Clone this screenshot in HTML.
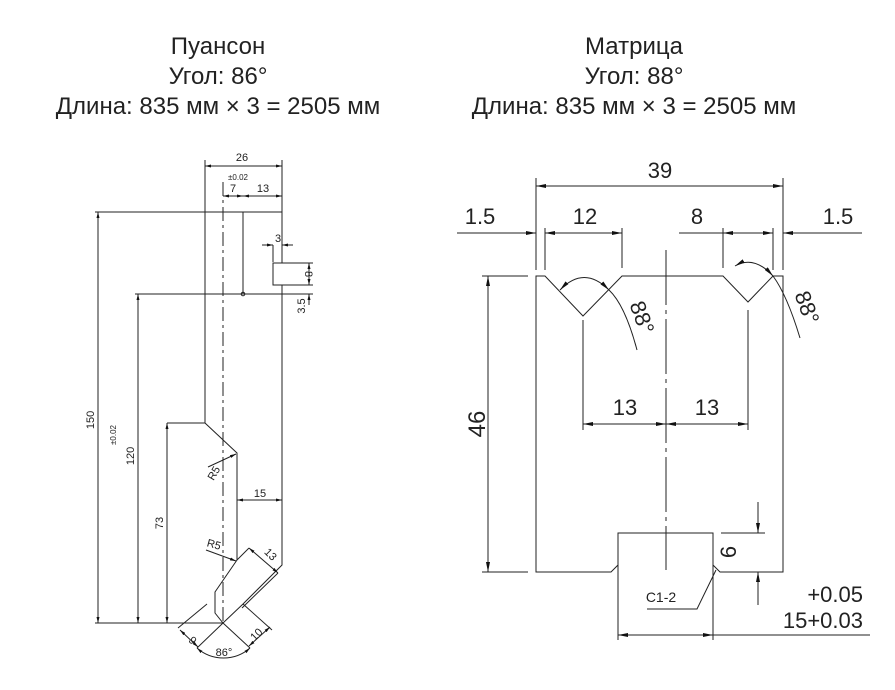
<!DOCTYPE html>
<html><head><meta charset="utf-8"><style>
html,body{margin:0;padding:0;background:#fff;width:895px;height:690px;overflow:hidden}
svg{display:block}
.t{font-family:"Liberation Sans","DejaVu Sans",sans-serif;font-size:24px;fill:#222;text-anchor:middle}
.c{font-family:"Liberation Sans",sans-serif;fill:#222}
</style></head><body>
<svg width="895" height="690" viewBox="0 0 895 690" xmlns="http://www.w3.org/2000/svg">
<defs>
<marker id="a" viewBox="0 0 10 4" refX="10" refY="2" markerWidth="10" markerHeight="4" markerUnits="userSpaceOnUse" orient="auto-start-reverse"><path d="M0,0L10,2L0,4z" fill="#111"/></marker>
<marker id="s" viewBox="0 0 6 3" refX="6" refY="1.5" markerWidth="6" markerHeight="3" markerUnits="userSpaceOnUse" orient="auto-start-reverse"><path d="M0,0L6,1.5L0,3z" fill="#111"/></marker>
</defs>
<text class="t" x="218" y="54">Пуансон</text>
<text class="t" x="218" y="84">Угол: 86°</text>
<text class="t" x="218" y="114">Длина: 835 мм × 3 = 2505 мм</text>
<text class="t" x="634" y="54">Матрица</text>
<text class="t" x="634" y="84">Угол: 88°</text>
<text class="t" x="634" y="114">Длина: 835 мм × 3 = 2505 мм</text>

<!-- LEFT PUNCH -->
<g stroke="#222" stroke-width="1" fill="none">
<path d="M205,212H282V263H273V285H282V565L243,604L223,623L215,613V592L237,560V453L205,423V160"/>
<line x1="282" y1="212" x2="282" y2="160"/>
<line x1="243" y1="212" x2="243" y2="294"/>
<line x1="223" y1="182" x2="223" y2="623" stroke-dasharray="14,4,3,4"/>
<line x1="95" y1="212" x2="282" y2="212"/>
<line x1="135" y1="294" x2="313" y2="294"/>
<line x1="95" y1="623" x2="223" y2="623"/>
<line x1="167" y1="423" x2="205" y2="423"/>
<line x1="98" y1="212" x2="98" y2="623" marker-start="url(#s)" marker-end="url(#s)"/>
<line x1="138" y1="294" x2="138" y2="623" marker-start="url(#s)" marker-end="url(#s)"/>
<line x1="167" y1="423" x2="167" y2="623" marker-start="url(#s)" marker-end="url(#s)"/>
<line x1="205" y1="166" x2="282" y2="166" marker-start="url(#s)" marker-end="url(#s)"/>
<line x1="223" y1="196" x2="243" y2="196" marker-start="url(#s)" marker-end="url(#s)"/>
<line x1="243" y1="196" x2="282" y2="196" marker-start="url(#s)" marker-end="url(#s)"/>
<line x1="262" y1="245" x2="273" y2="245" marker-end="url(#s)"/>
<line x1="293" y1="245" x2="282" y2="245" marker-end="url(#s)"/>
<line x1="273" y1="245" x2="273" y2="262"/>
<line x1="282" y1="263" x2="313" y2="263"/>
<line x1="282" y1="285" x2="313" y2="285"/>
<line x1="309" y1="263" x2="309" y2="285" marker-start="url(#s)" marker-end="url(#s)"/>
<line x1="309" y1="305" x2="309" y2="294" marker-end="url(#s)"/>
<line x1="237" y1="500" x2="282" y2="500" marker-start="url(#s)" marker-end="url(#s)"/>
<line x1="208" y1="467" x2="236" y2="454" marker-end="url(#s)"/>
<line x1="206" y1="550" x2="236" y2="561" marker-end="url(#s)"/>
<line x1="237" y1="560" x2="249" y2="548"/>
<line x1="249" y1="548" x2="278" y2="573" marker-start="url(#s)" marker-end="url(#s)"/>
<line x1="278" y1="573" x2="242" y2="608"/>
<line x1="178" y1="628" x2="207" y2="604"/>
<line x1="180" y1="630" x2="198" y2="647" marker-start="url(#s)" marker-end="url(#s)"/>
<line x1="223" y1="623" x2="250" y2="648"/>
<line x1="243" y1="604" x2="272" y2="630"/>
<line x1="249" y1="646" x2="270" y2="627" marker-start="url(#s)" marker-end="url(#s)"/>
<line x1="197" y1="648" x2="223" y2="623"/>
<path d="M197,648A40,40 0 0 0 250,648" marker-start="url(#s)" marker-end="url(#s)"/>
<circle cx="243" cy="294" r="1.8"/>
</g>
<g class="c" font-size="11">
<text x="242" y="161" text-anchor="middle">26</text>
<text x="238" y="180" font-size="8" text-anchor="middle">±0.02</text>
<text x="233" y="192" text-anchor="middle">7</text>
<text x="263" y="192" text-anchor="middle">13</text>
<text x="278" y="242" text-anchor="middle">3</text>
<text transform="translate(305,274) rotate(90)" text-anchor="middle">8</text>
<text transform="translate(305,306) rotate(-90)" text-anchor="middle">3.5</text>
<text transform="translate(94,420) rotate(-90)" text-anchor="middle">150</text>
<text transform="translate(116,435) rotate(-90)" text-anchor="middle" font-size="8">±0.02</text>
<text transform="translate(134,456) rotate(-90)" text-anchor="middle">120</text>
<text transform="translate(163,523) rotate(-90)" text-anchor="middle">73</text>
<text transform="translate(217,475) rotate(-60)" text-anchor="middle">R5</text>
<text x="213" y="548" text-anchor="middle" transform="rotate(15 213 548)">R5</text>
<text x="260" y="497" text-anchor="middle">15</text>
<text transform="translate(268,557) rotate(45)" text-anchor="middle">13</text>
<text transform="translate(190,643) rotate(45)" text-anchor="middle">9</text>
<text transform="translate(259,637) rotate(-45)" text-anchor="middle">10</text>
<text x="224" y="656" text-anchor="middle">86°</text>
</g>

<!-- RIGHT DIE -->
<g stroke="#222" stroke-width="1" fill="none">
<path d="M536,276H545L583,316L622,276H723L748,302L773,276H783V572H720L713,565V533H618V565L611,572H536Z"/>
<line x1="618" y1="565" x2="618" y2="640"/>
<line x1="713" y1="565" x2="713" y2="640"/>
<line x1="666" y1="250" x2="666" y2="570" stroke-dasharray="55,5,4,5"/>
<line x1="482" y1="276" x2="528" y2="276"/>
<line x1="482" y1="572" x2="528" y2="572"/>
<line x1="488" y1="276" x2="488" y2="572" marker-start="url(#a)" marker-end="url(#a)"/>
<line x1="536" y1="178" x2="536" y2="270"/>
<line x1="783" y1="178" x2="783" y2="270"/>
<line x1="545" y1="228" x2="545" y2="270"/>
<line x1="622" y1="228" x2="622" y2="268"/>
<line x1="723" y1="228" x2="723" y2="268"/>
<line x1="773" y1="228" x2="773" y2="270"/>
<line x1="536" y1="186" x2="783" y2="186" marker-start="url(#a)" marker-end="url(#a)"/>
<line x1="457" y1="233" x2="536" y2="233" marker-end="url(#a)"/>
<line x1="545" y1="233" x2="622" y2="233" marker-start="url(#a)" marker-end="url(#a)"/>
<line x1="679" y1="233" x2="723" y2="233"/>
<line x1="723" y1="233" x2="773" y2="233" marker-start="url(#a)" marker-end="url(#a)"/>
<line x1="862" y1="233" x2="783" y2="233" marker-end="url(#a)"/>
<line x1="583" y1="320" x2="583" y2="430"/>
<line x1="748" y1="310" x2="748" y2="430"/>
<line x1="583" y1="424" x2="666" y2="424" marker-start="url(#a)" marker-end="url(#a)"/>
<line x1="666" y1="424" x2="748" y2="424" marker-start="url(#a)" marker-end="url(#a)"/>
<path d="M560,290Q584,265 609,290" marker-start="url(#a)" marker-end="url(#a)"/>
<path d="M609,290Q625,305 637,350"/>
<path d="M735,266Q754,255 773,276" marker-start="url(#a)" marker-end="url(#a)"/>
<path d="M773,276Q787,295 800,338"/>
<line x1="721" y1="533" x2="765" y2="533"/>
<line x1="758" y1="502" x2="758" y2="533" marker-end="url(#a)"/>
<line x1="758" y1="605" x2="758" y2="572" marker-end="url(#a)"/>
<line x1="618" y1="635" x2="713" y2="635" marker-start="url(#a)" marker-end="url(#a)"/>
<line x1="713" y1="635" x2="870" y2="635"/>
<path d="M647,609H697L716,570"/>
</g>
<g class="c" font-size="22" font-weight="300">
<text x="660" y="178" text-anchor="middle">39</text>
<text x="480" y="224" text-anchor="middle">1.5</text>
<text x="585" y="224" text-anchor="middle">12</text>
<text x="697" y="224" text-anchor="middle">8</text>
<text x="838" y="224" text-anchor="middle">1.5</text>
<text x="625" y="415" text-anchor="middle">13</text>
<text x="707" y="415" text-anchor="middle">13</text>
<text transform="translate(485,424) rotate(-90)" text-anchor="middle" font-size="24">46</text>
<text transform="translate(736,552) rotate(-90)" text-anchor="middle">6</text>
<text transform="translate(635,320) rotate(70)" text-anchor="middle">88°</text>
<text transform="translate(800,310) rotate(70)" text-anchor="middle">88°</text>
<text x="863" y="602" text-anchor="end">+0.05</text>
<text x="863" y="628" text-anchor="end">15+0.03</text>
<text x="661" y="602" font-size="14" text-anchor="middle">C1-2</text>
</g>
</svg>
</body></html>
